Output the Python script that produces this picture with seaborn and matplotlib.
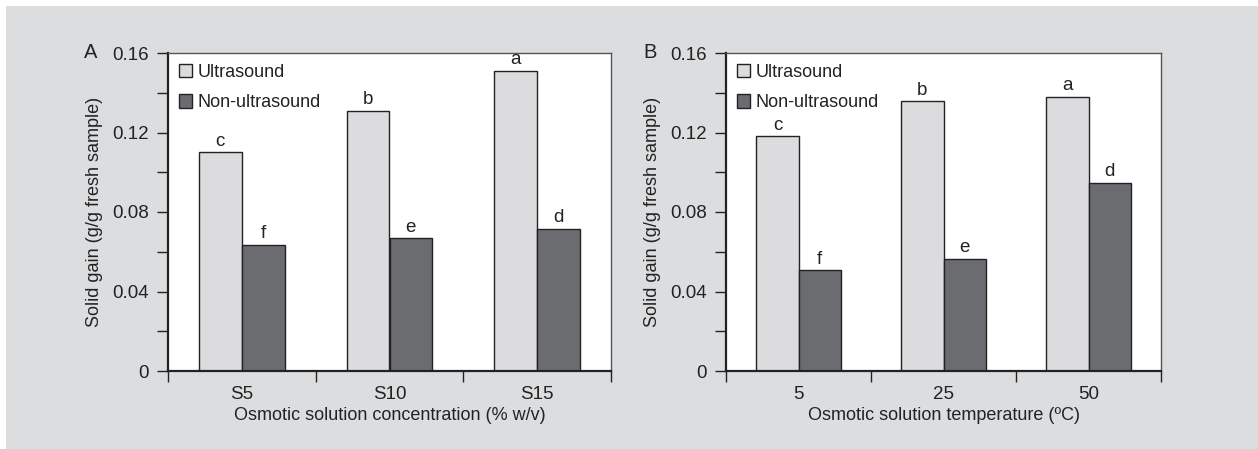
import matplotlib
matplotlib.use("Agg")
import matplotlib.pyplot as plt
import seaborn as sns
import pandas as pd
from matplotlib.patches import Rectangle, Patch
from matplotlib.ticker import MultipleLocator, FixedLocator, NullFormatter

# ---- data ----
series_names = ["Ultrasound", "Non-ultrasound"]
cats_a = ["S5", "S10", "S15"]
us_a = [0.110, 0.131, 0.151]
non_a = [0.0635, 0.0667, 0.0715]
cats_b = ["5", "25", "50"]
us_b = [0.118, 0.1357, 0.138]
non_b = [0.0506, 0.0563, 0.0945]
letters_us = ["c", "b", "a"]
letters_non = ["f", "e", "d"]
xlabel_a = "Osmotic solution concentration (% w/v)"
xlabel_b = "Osmotic solution temperature (ºC)"
ylabel = "Solid gain (g/g fresh sample)"
yticks = [0, 0.04, 0.08, 0.12, 0.16]
ytick_labels = ["0", "0.04", "0.08", "0.12", "0.16"]

sns.set_style("white")
plt.rcParams["font.family"] = ["Liberation Sans Narrow", "Liberation Sans", "DejaVu Sans"]

BG = "#dcdddf"
LIGHT = "#dcdcde"
DARK = "#6b6c70"
FS_TICK = 13.5
FS = 13

fig = plt.figure(figsize=(12.58, 4.49), dpi=100, facecolor="white")
fig.patches.append(Rectangle((6 / 1258, 0), 1, 1 - 6 / 449, transform=fig.transFigure,
                             facecolor=BG, edgecolor="none", zorder=-10))

ax_a = fig.add_axes([168 / 1258, 1 - 371 / 449, 443 / 1258, 318 / 449])
ax_b = fig.add_axes([726 / 1258, 1 - 371 / 449, 435 / 1258, 318 / 449])


def draw(ax, cats, us, non, xlabel, panel):
    df = pd.DataFrame({
        "cat": cats + cats,
        "val": us + non,
        "series": [series_names[0]] * len(cats) + [series_names[1]] * len(cats),
    })
    sns.barplot(data=df, x="cat", y="val", hue="series", order=cats,
                hue_order=series_names, palette=[LIGHT, DARK], width=0.58,
                errorbar=None, edgecolor="#222222", linewidth=1.0, ax=ax,
                saturation=1)
    ax.set_facecolor("white")
    for cont, labs in zip(ax.containers, [letters_us, letters_non]):
        ax.bar_label(cont, labels=labs, padding=2, fontsize=FS_TICK, color="#222222")
    ax.set_xlim(-0.5, len(cats) - 0.5)
    ax.set_ylim(0, 0.16)
    ax.yaxis.set_major_locator(FixedLocator(yticks))
    ax.set_yticklabels(ytick_labels)
    ax.yaxis.set_minor_locator(MultipleLocator(0.02))
    ax.yaxis.set_minor_formatter(NullFormatter())
    ax.tick_params(axis="y", which="both", direction="out", length=8, width=1,
                   color="#222222", labelsize=FS_TICK, labelcolor="#222222", left=True, pad=6)
    # x: boundary ticks as major (no labels), category labels on minor
    ax.xaxis.set_major_locator(FixedLocator([-0.5 + i for i in range(len(cats) + 1)]))
    ax.xaxis.set_major_formatter(NullFormatter())
    ax.xaxis.set_minor_locator(FixedLocator(list(range(len(cats)))))
    ax.set_xticklabels(cats, minor=True)
    ax.tick_params(axis="x", which="major", direction="out", length=8, width=1,
                   color="#222222", bottom=True)
    ax.tick_params(axis="x", which="minor", length=0, labelsize=FS_TICK,
                   labelcolor="#222222", pad=11)
    ax.set_xlabel(xlabel, fontsize=FS, color="#222222", labelpad=3)
    ax.set_ylabel(ylabel, fontsize=FS, color="#222222", labelpad=6)
    for s in ["left", "bottom"]:
        ax.spines[s].set_color("#222222")
        ax.spines[s].set_linewidth(1.6)
    for s in ["top", "right"]:
        ax.spines[s].set_color("#555555")
        ax.spines[s].set_linewidth(1.0)
    handles = [Patch(facecolor=LIGHT, edgecolor="#222222", linewidth=1.0),
               Patch(facecolor=DARK, edgecolor="#222222", linewidth=1.0)]
    ax.legend(handles, series_names, loc="upper left", frameon=False,
              fontsize=FS, handlelength=0.75, handleheight=0.75,
              handletextpad=0.3, labelspacing=0.75, borderaxespad=0.2,
              borderpad=0.4, labelcolor="#222222")
    ax.text(-0.19, 1.0, panel, transform=ax.transAxes, fontsize=FS_TICK + 1,
            color="#222222", ha="left", va="center")


draw(ax_a, cats_a, us_a, non_a, xlabel_a, "A")
draw(ax_b, cats_b, us_b, non_b, xlabel_b, "B")

fig.savefig("out.png", dpi=100, facecolor=fig.get_facecolor())
